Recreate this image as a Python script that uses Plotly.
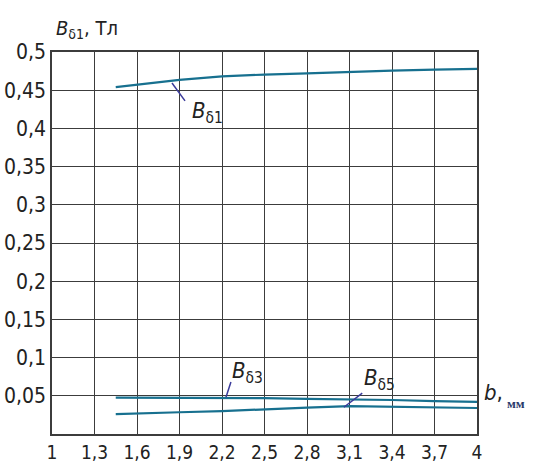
import plotly.graph_objects as go

# Data
b_vals = [1.45, 1.6, 1.9, 2.2, 2.5, 2.8, 3.1, 3.4, 3.7, 4.0]
B_d1 = [0.454, 0.457, 0.4635, 0.468, 0.4705, 0.472, 0.474, 0.4755, 0.4768, 0.478]
B_d3 = [0.0475, 0.0475, 0.0475, 0.0475, 0.047, 0.046, 0.0455, 0.0445, 0.043, 0.042]
B_d5 = [0.026, 0.027, 0.0285, 0.030, 0.0325, 0.0345, 0.0365, 0.0355, 0.035, 0.034]

x_ticks = [1, 1.3, 1.6, 1.9, 2.2, 2.5, 2.8, 3.1, 3.4, 3.7, 4]
x_ticktext = ["1", "1,3", "1,6", "1,9", "2,2", "2,5", "2,8", "3,1", "3,4", "3,7", "4"]
y_ticks = [0.05, 0.1, 0.15, 0.2, 0.25, 0.3, 0.35, 0.4, 0.45, 0.5]
y_ticktext = ["0,05", "0,1", "0,15", "0,2", "0,25", "0,3", "0,35", "0,4", "0,45", "0,5"]

line_color = "#17708f"
lead_color = "#3a3a9a"
grid_color = "#3c3c3c"
font_fam = "DejaVu Sans Condensed, Liberation Sans Narrow, Roboto, sans-serif"

fig = go.Figure()
for ys in (B_d1, B_d3, B_d5):
    fig.add_trace(go.Scatter(x=b_vals, y=ys, mode="lines",
                             line=dict(color=line_color, width=2.2),
                             showlegend=False, hoverinfo="skip"))

# leader lines
leaders = [
    (1.847, 0.4595, 1.939, 0.436),
    (2.228, 0.048, 2.263, 0.068),
    (3.06, 0.035, 3.19, 0.0535),
]
for x0, y0, x1, y1 in leaders:
    fig.add_shape(type="line", x0=x0, y0=y0, x1=x1, y1=y1, xref="x", yref="y",
                  line=dict(color=lead_color, width=1.5))

labels = [
    ("<i>B</i><sub>δ1</sub>", 2.1, 0.421),
    ("<i>B</i><sub>δ3</sub>", 2.38, 0.080),
    ("<i>B</i><sub>δ5</sub>", 3.31, 0.071),
]
for txt, x, y in labels:
    fig.add_annotation(text=txt, x=x, y=y, xref="x", yref="y", showarrow=False,
                       font=dict(family=font_fam, size=22, color="#222222"))

# axis titles
fig.add_annotation(text="<i>B</i><sub>δ1</sub>, Тл", x=0.005, y=1.1, xref="paper", yref="paper",
                   xanchor="left", showarrow=False,
                   font=dict(family=font_fam, size=20, color="#222222"))
fig.add_annotation(text="<i>b</i>,", x=1.012, y=0.07, xref="paper", yref="paper",
                   xanchor="left", showarrow=False,
                   font=dict(family=font_fam, size=22, color="#222222"))
fig.add_annotation(text="<b>мм</b>", x=1.065, y=0.055, xref="paper", yref="paper",
                   xanchor="left", showarrow=False,
                   font=dict(family="Liberation Serif, serif", size=13, color="#2a3a6a"))

fig.update_layout(
    width=540, height=464,
    margin=dict(l=52, r=63, t=52, b=30),
    paper_bgcolor="white", plot_bgcolor="white",
    font=dict(family=font_fam, size=16, color="#222222"),
    xaxis=dict(range=[1, 4], tickvals=x_ticks, ticktext=x_ticktext, automargin=False,
               showgrid=True, gridcolor=grid_color, gridwidth=1.3,
               showline=True, linecolor=grid_color, linewidth=1.5, mirror=True,
               zeroline=False, ticks="", tickfont=dict(size=19)),
    yaxis=dict(range=[0, 0.5], tickvals=y_ticks, ticktext=y_ticktext, automargin=False,
               showgrid=True, gridcolor=grid_color, gridwidth=1.3,
               showline=True, linecolor=grid_color, linewidth=1.5, mirror=True,
               zeroline=False, ticks="", tickfont=dict(size=21)),
)

fig.write_html("out.html", config={"displayModeBar": False},
               post_script="document.body.style.margin='0';document.body.style.overflow='hidden';")
